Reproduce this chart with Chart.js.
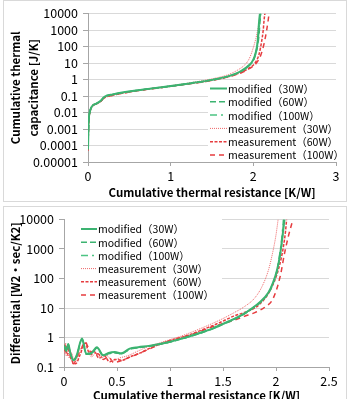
<!DOCTYPE html>
<html>
<head>
<meta charset="utf-8">
<script src="https://cdn.jsdelivr.net/npm/chart.js@4.4.1/dist/chart.umd.min.js"></script>
<style>
  html, body { margin: 0; padding: 0; background: #fff; }
  body { width: 350px; height: 399px; overflow: hidden; position: relative; }
  .frame { position: absolute; left: 3px; width: 344px; border: 1px solid #d9d9d9; box-sizing: border-box; background: #fff; }
  #capFrame { top: 0; height: 202px; }
  #difFrame { top: 206px; height: 199px; }
  canvas { display: block; }
</style>
</head>
<body>
<div class="frame" id="capFrame"><canvas id="capChart" width="342" height="200"></canvas></div>
<div class="frame" id="difFrame"><canvas id="difChart" width="342" height="197"></canvas></div>
<script>
// ---- labels ----
const seriesLabels = ['modified（30W）', 'modified（60W）', 'modified（100W）',
  'measurement（30W）', 'measurement（60W）', 'measurement（100W）'];

// ---- top chart: cumulative thermal capacitance [J/K] vs R [K/W] ----
const capTicks = ['0.00001', '0.0001', '0.001', '0.01', '0.1', '1', '10', '100', '1000', '10000'];
const capXTicks = ['0', '1', '2', '3'];

const capMod30R = [0, 0.005, 0.01, 0.02, 0.04, 0.06, 0.1, 0.15, 0.2, 0.3, 0.5, 0.75, 1.0, 1.25, 1.5, 1.7, 1.85, 1.95, 2.0, 2.03, 2.05, 2.06, 2.07, 2.08];
const capMod30C = [0.00006, 0.0008, 0.004, 0.01, 0.02, 0.028, 0.034, 0.05, 0.09, 0.125, 0.19, 0.28, 0.4, 0.6, 0.95, 1.6, 3.2, 7.5, 16, 45, 160, 700, 3500, 10000];
const capMod60R = [0, 0.005, 0.01, 0.02, 0.04, 0.06, 0.1, 0.15, 0.2, 0.3, 0.5, 0.75, 1.0, 1.25, 1.5, 1.7, 1.85, 1.95, 2.0, 2.03, 2.055, 2.07, 2.08, 2.09];
const capMod60C = [0.00006, 0.0008, 0.004, 0.01, 0.02, 0.028, 0.034, 0.05, 0.088, 0.122, 0.185, 0.275, 0.39, 0.59, 0.93, 1.55, 3.0, 7, 14, 38, 140, 600, 3000, 10000];
const capMod100R = [0, 0.005, 0.01, 0.02, 0.04, 0.06, 0.1, 0.15, 0.2, 0.3, 0.5, 0.75, 1.0, 1.25, 1.5, 1.7, 1.85, 1.95, 2.0, 2.03, 2.05, 2.065, 2.075, 2.085];
const capMod100C = [0.00006, 0.0008, 0.004, 0.01, 0.02, 0.028, 0.034, 0.05, 0.088, 0.123, 0.187, 0.278, 0.395, 0.6, 0.94, 1.58, 3.1, 7.2, 15, 42, 150, 650, 3200, 10000];
const capMeas30R = [0, 0.005, 0.01, 0.02, 0.04, 0.06, 0.1, 0.15, 0.2, 0.3, 0.5, 0.75, 1.0, 1.25, 1.5, 1.7, 1.82, 1.9, 1.95, 1.99, 2.03, 2.06, 2.08, 2.09];
const capMeas30C = [0.00005, 0.0007, 0.0035, 0.009, 0.019, 0.027, 0.033, 0.045, 0.08, 0.115, 0.18, 0.28, 0.42, 0.65, 1.1, 2.0, 4, 8, 18, 60, 300, 1500, 5000, 10000];
const capMeas60R = [0, 0.005, 0.01, 0.02, 0.04, 0.06, 0.1, 0.15, 0.2, 0.3, 0.5, 0.75, 1.0, 1.25, 1.5, 1.7, 1.85, 1.95, 2.02, 2.07, 2.1, 2.12, 2.13, 2.14];
const capMeas60C = [0.00005, 0.0007, 0.0035, 0.009, 0.019, 0.027, 0.033, 0.045, 0.078, 0.112, 0.175, 0.27, 0.39, 0.58, 0.9, 1.5, 2.7, 5, 10, 35, 200, 1000, 4000, 10000];
const capMeas100R = [0, 0.005, 0.01, 0.02, 0.04, 0.06, 0.1, 0.15, 0.2, 0.3, 0.5, 0.75, 1.0, 1.25, 1.5, 1.7, 1.85, 1.95, 2.03, 2.09, 2.13, 2.16, 2.18, 2.19];
const capMeas100C = [0.00005, 0.0007, 0.0035, 0.009, 0.019, 0.027, 0.033, 0.045, 0.078, 0.11, 0.172, 0.265, 0.385, 0.57, 0.88, 1.45, 2.5, 4.5, 9, 30, 150, 900, 4000, 10000];

// ---- bottom chart: differential structure function [W2・sec/K2] vs R [K/W] ----
const difTicks = ['0.1', '1', '10', '100', '1000', '10000'];
const difXTicks = ['0', '0.5', '1', '1.5', '2', '2.5'];

const difMod30R = [0, 0.02, 0.04, 0.06, 0.09, 0.12, 0.17, 0.21, 0.26, 0.31, 0.37, 0.42, 0.48, 0.54, 0.62, 0.7, 0.8, 0.9, 1.0, 1.1, 1.2, 1.3, 1.4, 1.5, 1.6, 1.7, 1.77, 1.85, 1.93, 1.97, 2.01, 2.04, 2.06, 2.08];
const difMod30K = [0.55, 0.35, 0.6, 0.3, 0.17, 0.25, 0.92, 0.28, 0.3, 0.47, 0.25, 0.3, 0.32, 0.29, 0.42, 0.47, 0.52, 0.6, 0.72, 0.9, 1.15, 1.5, 2.0, 2.9, 4.2, 6.5, 9.6, 16, 34, 70, 195, 700, 2500, 10000];
const difMod60R = [0, 0.02, 0.04, 0.06, 0.09, 0.12, 0.17, 0.21, 0.26, 0.31, 0.37, 0.42, 0.48, 0.54, 0.62, 0.7, 0.8, 0.9, 1.0, 1.1, 1.2, 1.3, 1.4, 1.5, 1.6, 1.7, 1.77, 1.85, 1.93, 1.97, 2.01, 2.04, 2.06, 2.075];
const difMod60K = [0.5, 0.4, 0.55, 0.28, 0.16, 0.24, 0.85, 0.27, 0.28, 0.44, 0.24, 0.28, 0.3, 0.28, 0.4, 0.45, 0.5, 0.58, 0.7, 0.88, 1.12, 1.45, 1.95, 2.8, 4.0, 6.2, 9.2, 15, 32, 65, 180, 650, 2300, 10000];
const difMod100R = [0, 0.02, 0.04, 0.06, 0.09, 0.12, 0.17, 0.21, 0.26, 0.31, 0.37, 0.42, 0.48, 0.54, 0.62, 0.7, 0.8, 0.9, 1.0, 1.1, 1.2, 1.3, 1.4, 1.5, 1.6, 1.7, 1.77, 1.85, 1.93, 1.97, 2.01, 2.035, 2.055, 2.07];
const difMod100K = [0.52, 0.38, 0.58, 0.29, 0.17, 0.24, 0.88, 0.28, 0.29, 0.45, 0.25, 0.29, 0.31, 0.28, 0.41, 0.46, 0.51, 0.59, 0.71, 0.89, 1.13, 1.48, 1.98, 2.85, 4.1, 6.3, 9.4, 15.5, 33, 68, 190, 680, 2400, 10000];
const difMeas30R = [0, 0.015, 0.03, 0.05, 0.07, 0.1, 0.14, 0.19, 0.22, 0.26, 0.3, 0.35, 0.4, 0.46, 0.52, 0.6, 0.7, 0.8, 0.9, 1.0, 1.1, 1.2, 1.3, 1.4, 1.5, 1.6, 1.7, 1.8, 1.87, 1.93, 1.97, 2.0, 2.02];
const difMeas30K = [0.4, 0.25, 0.5, 0.2, 0.3, 0.14, 0.3, 0.55, 0.4, 0.22, 0.3, 0.2, 0.25, 0.16, 0.2, 0.24, 0.35, 0.5, 0.65, 0.85, 1.1, 1.5, 2.1, 3.0, 4.4, 6.8, 11, 22, 55, 200, 800, 3000, 10000];
const difMeas60R = [0, 0.015, 0.03, 0.05, 0.08, 0.11, 0.15, 0.2, 0.24, 0.28, 0.33, 0.38, 0.43, 0.48, 0.55, 0.62, 0.72, 0.82, 0.92, 1.0, 1.1, 1.2, 1.3, 1.4, 1.5, 1.6, 1.7, 1.8, 1.9, 1.97, 2.03, 2.07, 2.09, 2.1];
const difMeas60K = [0.35, 0.6, 0.25, 0.4, 0.15, 0.13, 0.25, 0.65, 0.3, 0.35, 0.2, 0.24, 0.15, 0.18, 0.17, 0.22, 0.3, 0.45, 0.62, 0.8, 1.0, 1.3, 1.8, 2.5, 3.6, 5.3, 7, 10, 22, 60, 250, 1200, 4000, 10000];
const difMeas100R = [0, 0.02, 0.04, 0.06, 0.09, 0.12, 0.16, 0.2, 0.23, 0.27, 0.32, 0.37, 0.42, 0.47, 0.53, 0.6, 0.7, 0.8, 0.9, 1.0, 1.1, 1.2, 1.3, 1.4, 1.5, 1.6, 1.7, 1.8, 1.9, 1.97, 2.04, 2.08, 2.12, 2.16];
const difMeas100K = [0.45, 0.3, 0.45, 0.22, 0.13, 0.2, 0.4, 0.7, 0.45, 0.25, 0.28, 0.18, 0.22, 0.14, 0.16, 0.2, 0.28, 0.4, 0.58, 0.78, 0.98, 1.25, 1.7, 2.3, 3.0, 3.8, 5.2, 7, 11, 20, 120, 700, 3000, 10000];

// ---- styles ----
const green = '#3cb371';
const red = '#e63c3f';
const seriesStyles = [
  { borderColor: green, borderWidth: 2, borderDash: [] },
  { borderColor: green, borderWidth: 1.5, borderDash: [6, 3] },
  { borderColor: '#4cc483', borderWidth: 1.5, borderDash: [7, 4, 2, 4] },
  { borderColor: '#ee6668', borderWidth: 1, borderDash: [1, 1] },
  { borderColor: red, borderWidth: 1.5, borderDash: [3, 1.5] },
  { borderColor: red, borderWidth: 1.5, borderDash: [5, 4] }
];

const font = '"Noto Sans CJK JP", "Noto Sans", sans-serif';
Chart.defaults.font.family = font;
Chart.defaults.color = '#000';

function pairs(xs, ys) {
  return xs.map((x, i) => ({ x: x, y: ys[i] }));
}

function makeDatasets(list) {
  return list.map((d, i) => Object.assign({
    label: seriesLabels[i],
    data: pairs(d[0], d[1]),
    pointRadius: 0,
    fill: false,
    cubicInterpolationMode: 'monotone'
  }, seriesStyles[i]));
}

// legend drawn inside the plot on a white box, like the original
const insideLegend = {
  id: 'insideLegend',
  afterDatasetsDraw(chart, args, opts) {
    const ctx = chart.ctx;
    ctx.save();
    ctx.fillStyle = '#fff';
    ctx.fillRect(opts.box[0], opts.box[1], opts.box[2], opts.box[3]);
    ctx.font = opts.font;
    ctx.textBaseline = 'middle';
    ctx.textAlign = 'left';
    chart.data.datasets.forEach((ds, i) => {
      const y = opts.y + i * opts.row;
      ctx.strokeStyle = ds.borderColor;
      ctx.lineWidth = ds.borderWidth;
      ctx.setLineDash(ds.borderDash || []);
      ctx.beginPath();
      ctx.moveTo(opts.x, y);
      ctx.lineTo(opts.x + opts.sample, y);
      ctx.stroke();
      ctx.setLineDash([]);
      ctx.fillStyle = '#000';
      ctx.fillText(ds.label, opts.x + opts.sample + 1, y + 0.5);
    });
    ctx.restore();
  }
};

function logAxis(tickLabels, min, max, width, title, titlePad) {
  const values = tickLabels.map(Number);
  return {
    type: 'logarithmic',
    min: min,
    max: max,
    afterBuildTicks: s => { s.ticks = values.map(v => ({ value: v })); },
    afterFit: s => { s.width = width; },
    ticks: {
      autoSkip: false,
      padding: 5,
      font: { size: 12.5 },
      callback: v => tickLabels[values.indexOf(v)]
    },
    grid: { color: '#d9d9d9', tickColor: '#a6a6a6', tickLength: 5 },
    border: { color: '#a6a6a6' },
    title: {
      display: true,
      text: title,
      font: { size: 11.5, weight: 'bold', lineHeight: 1.6 },
      padding: { top: titlePad, bottom: 0 }
    }
  };
}

function linAxis(tickLabels, height) {
  const values = tickLabels.map(Number);
  return {
    type: 'linear',
    min: values[0],
    max: values[values.length - 1],
    afterBuildTicks: s => { s.ticks = values.map(v => ({ value: v })); },
    afterFit: s => { s.height = height; },
    ticks: {
      autoSkip: false,
      maxRotation: 0,
      padding: 3,
      font: { size: 12.5 },
      callback: v => tickLabels[values.indexOf(v)]
    },
    grid: { drawOnChartArea: false, tickColor: '#a6a6a6', tickLength: 4 },
    border: { color: '#a6a6a6' },
    title: {
      display: true,
      text: 'Cumulative thermal resistance [K/W]',
      font: { size: 11.5, weight: 'bold', lineHeight: 1.2 },
      padding: { top: 0, bottom: 1 }
    }
  };
}

new Chart(document.getElementById('capChart'), {
  type: 'line',
  data: {
    datasets: makeDatasets([
      [capMod30R, capMod30C], [capMod60R, capMod60C], [capMod100R, capMod100C],
      [capMeas30R, capMeas30C], [capMeas60R, capMeas60C], [capMeas100R, capMeas100C]
    ])
  },
  options: {
    responsive: false,
    animation: false,
    layout: { padding: { left: 0, right: 10, top: 11, bottom: 0 } },
    scales: {
      x: linAxis(capXTicks, 39),
      y: logAxis(capTicks, 0.00001, 10000, 84, ['Cumulative thermal', 'capacitance [J/K]'], 2)
    },
    plugins: {
      legend: { display: false },
      tooltip: { enabled: false },
      insideLegend: {
        box: [204, 82, 137, 77],
        x: 206, y: 87.5, row: 13.3, sample: 17,
        font: '10.5px ' + font
      }
    }
  },
  plugins: [insideLegend]
});

new Chart(document.getElementById('difChart'), {
  type: 'line',
  data: {
    datasets: makeDatasets([
      [difMod30R, difMod30K], [difMod60R, difMod60K], [difMod100R, difMod100K],
      [difMeas30R, difMeas30K], [difMeas60R, difMeas60K], [difMeas100R, difMeas100K]
    ])
  },
  options: {
    responsive: false,
    animation: false,
    layout: { padding: { left: 0, right: 17, top: 7, bottom: 0 } },
    scales: {
      x: linAxis(difXTicks, 37),
      y: logAxis(difTicks, 0.1, 10000, 60, 'Differential [W2・sec/K2]', 2)
    },
    plugins: {
      legend: { display: false },
      tooltip: { enabled: false },
      insideLegend: {
        box: [61, 10, 157, 90],
        x: 77, y: 22, row: 13.2, sample: 16,
        font: '10.5px ' + font
      }
    }
  },
  plugins: [insideLegend]
});
</script>
</body>
</html>
